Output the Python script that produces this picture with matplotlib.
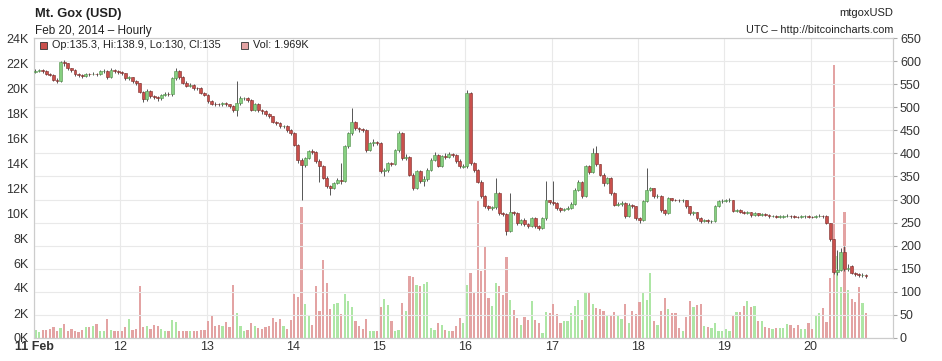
import numpy as np
import matplotlib.pyplot as plt
from matplotlib.patches import Rectangle

plt.rcParams["font.family"] = ["Liberation Sans", "DejaVu Sans"]

# hourly candles, Feb 11 00:00 UTC .. Feb 20 15:00 UTC (one row per day)
opens = [
    577, 579, 580, 578, 573, 570, 560, 557, 598, 595, 584, 580, 572, 570, 568, 572, 571, 573, 572, 578, 579, 566, 581, 578,
    576, 574, 563, 565, 556, 552, 533, 518, 536, 524, 522, 519, 526, 529, 528, 563, 578, 565, 553, 547, 549, 542, 541, 531,
    527, 513, 508, 507, 506, 509, 506, 502, 495, 509, 520, 520, 516, 495, 507, 495, 491, 485, 480, 469, 466, 459, 459, 451,
    444, 419, 386, 375, 390, 405, 404, 383, 372, 347, 329, 325, 336, 342, 340, 415, 444, 469, 454, 452, 450, 408, 422, 425,
    423, 361, 365, 379, 377, 408, 444, 390, 393, 354, 325, 361, 340, 345, 365, 386, 396, 373, 394, 392, 399, 396, 384, 371,
    372, 531, 379, 365, 339, 307, 285, 282, 283, 314, 271, 268, 231, 274, 271, 249, 256, 247, 243, 260, 242, 238, 260, 298,
    295, 292, 282, 278, 279, 282, 291, 321, 339, 307, 372, 360, 401, 376, 354, 336, 347, 314, 289, 291, 292, 264, 289, 285,
    260, 256, 296, 321, 324, 307, 308, 278, 271, 303, 300, 299, 298, 299, 285, 271, 272, 260, 254, 255, 253, 254, 285, 296,
    297, 298, 299, 276, 277, 274, 271, 272, 266, 270, 267, 269, 267, 264, 265, 263, 263, 264, 265, 264, 263, 262, 264, 264,
    263, 262, 264, 265, 264, 249, 214, 143, 148, 186, 150, 156, 141, 138, 135.5, 135.3,
]
highs = [
    582, 583, 582, 580, 575, 572, 563, 600, 603, 596, 586, 582, 574, 572, 575, 574, 576, 575, 581, 582, 580, 584, 583, 580,
    578, 575, 568, 566, 558, 553, 535, 540, 537, 527, 525, 529, 533, 532, 566, 586, 580, 567, 556, 552, 551, 544, 543, 532,
    528, 515, 511, 509, 512, 511, 508, 505, 557, 524, 523, 522, 518, 510, 509, 497, 493, 487, 482, 471, 468, 462, 461, 453,
    446, 421, 390, 392, 408, 410, 406, 388, 374, 350, 332, 339, 346, 379, 418, 447, 498, 470, 457, 455, 452, 425, 432, 427,
    425, 368, 382, 382, 410, 448, 446, 398, 395, 357, 364, 364, 350, 368, 389, 402, 398, 396, 400, 403, 401, 399, 388, 376,
    538, 533, 382, 367, 342, 309, 288, 287, 346, 316, 274, 270, 314, 276, 273, 258, 259, 250, 263, 262, 245, 263, 340, 300,
    341, 294, 284, 282, 286, 294, 324, 343, 341, 375, 374, 412, 415, 378, 357, 349, 348, 316, 294, 296, 294, 292, 290, 287,
    262, 299, 368, 328, 326, 311, 310, 280, 306, 304, 302, 301, 302, 300, 287, 275, 273, 262, 257, 258, 256, 288, 299, 301,
    302, 303, 300, 280, 279, 276, 275, 274, 272, 271, 271, 270, 268, 267, 266, 266, 267, 268, 267, 266, 265, 267, 267, 266,
    265, 266, 268, 267, 266, 250, 215, 190, 195, 200, 160, 158, 143, 140, 140, 138.9,
]
lows = [
    574, 576, 575, 570, 567, 556, 552, 555, 590, 580, 576, 568, 566, 563, 565, 567, 569, 568, 569, 575, 562, 563, 574, 572,
    570, 560, 560, 553, 549, 530, 512, 514, 520, 518, 514, 516, 524, 524, 525, 560, 561, 550, 543, 544, 538, 537, 528, 524,
    510, 504, 503, 502, 503, 502, 498, 490, 482, 505, 515, 511, 491, 492, 490, 486, 481, 476, 466, 462, 455, 455, 447, 440,
    415, 380, 300, 370, 388, 398, 379, 339, 344, 325, 310, 322, 333, 334, 338, 412, 440, 450, 447, 446, 404, 405, 417, 418,
    358, 350, 360, 372, 375, 404, 386, 386, 350, 320, 322, 336, 330, 340, 362, 383, 370, 370, 388, 389, 392, 380, 368, 368,
    368, 375, 360, 335, 304, 281, 278, 278, 280, 267, 264, 224, 229, 266, 245, 245, 243, 238, 240, 238, 233, 236, 256, 290,
    288, 278, 274, 275, 277, 279, 288, 318, 303, 305, 355, 358, 372, 350, 330, 333, 310, 285, 285, 287, 260, 262, 281, 255,
    250, 254, 294, 318, 303, 304, 274, 266, 268, 296, 296, 294, 295, 282, 267, 266, 256, 250, 251, 249, 250, 252, 283, 293,
    295, 295, 272, 273, 270, 268, 268, 263, 264, 264, 265, 264, 261, 262, 260, 260, 261, 262, 261, 260, 259, 260, 261, 260,
    259, 260, 262, 261, 246, 210, 138, 136, 145, 145, 146, 139, 135, 133, 133, 130,
]
closes = [
    579, 580, 578, 573, 570, 560, 557, 598, 595, 584, 580, 572, 570, 568, 572, 571, 573, 572, 578, 579, 566, 581, 578, 576,
    574, 563, 565, 556, 552, 533, 518, 536, 524, 522, 519, 526, 529, 528, 563, 578, 565, 553, 547, 549, 542, 541, 531, 527,
    513, 508, 507, 506, 509, 506, 502, 495, 509, 520, 520, 516, 495, 507, 495, 491, 485, 480, 469, 466, 459, 459, 451, 444,
    419, 386, 375, 390, 405, 404, 383, 372, 347, 329, 325, 336, 342, 340, 415, 444, 469, 454, 452, 450, 408, 422, 425, 423,
    361, 365, 379, 377, 408, 444, 390, 393, 354, 325, 361, 340, 345, 365, 386, 396, 373, 394, 392, 399, 396, 384, 372, 372,
    531, 379, 365, 339, 307, 285, 282, 283, 314, 271, 268, 231, 274, 271, 249, 256, 247, 243, 260, 242, 238, 260, 298, 295,
    292, 282, 278, 279, 282, 291, 321, 339, 307, 372, 360, 401, 376, 354, 336, 347, 314, 289, 291, 292, 264, 289, 285, 260,
    256, 296, 321, 324, 307, 308, 278, 271, 303, 300, 299, 298, 299, 285, 271, 272, 260, 254, 255, 253, 254, 285, 296, 297,
    298, 299, 276, 277, 274, 271, 272, 266, 270, 267, 269, 267, 264, 265, 263, 263, 264, 265, 264, 263, 262, 264, 264, 263,
    262, 264, 265, 264, 249, 214, 143, 148, 186, 150, 152, 141, 138, 136, 136.5, 135,
]
# volume in thousands of BTC
volumes = [
    0.65, 0.45, 0.65, 0.65, 0.75, 0.85, 0.6, 0.8, 1.1, 0.6, 0.75, 0.55, 0.45, 0.65, 0.85, 0.85, 0.95, 1.1, 0.55, 0.6, 1.5, 0.65, 0.55, 0.55,
    0.6, 0.85, 1.5, 0.65, 0.7, 4.15, 0.85, 1.0, 0.75, 1.07, 1.0, 0.75, 0.6, 0.55, 1.45, 1.3, 0.6, 0.55, 0.55, 0.55, 0.6, 0.6, 0.65, 0.65,
    1.35, 1.75, 1.0, 1.05, 1.0, 1.3, 0.85, 4.25, 2.0, 0.95, 0.6, 0.65, 1.2, 1.0, 0.8, 0.75, 0.85, 1.0, 1.6, 1.3, 1.55, 0.95, 0.7, 1.45,
    3.5, 3.25, 10.45, 2.7, 1.75, 1.07, 4.13, 2.13, 6.27, 4.4, 2.35, 2.7, 2.8, 1.9, 3.5, 2.93, 2.5, 1.4, 1.0, 0.75, 1.5, 0.6, 0.6, 0.6,
    2.5, 3.1, 2.67, 1.33, 0.53, 0.67, 2.8, 2.2, 4.96, 4.9, 4.27, 4.13, 4.3, 4.45, 0.8, 0.67, 1.2, 1.07, 0.67, 0.53, 0.6, 0.93, 1.6, 1.2,
    4.27, 5.2, 3.68, 11.07, 5.33, 7.25, 3.2, 2.53, 4.4, 4.13, 3.47, 6.45, 3.07, 2.27, 1.6, 1.07, 1.65, 1.47, 2.93, 1.47, 1.2, 0.4, 2.08, 2.0,
    2.72, 1.92, 1.2, 1.33, 1.39, 2.0, 2.53, 3.07, 1.47, 3.68, 3.68, 2.72, 2.4, 2.35, 2.19, 1.87, 1.87, 2.08, 1.81, 1.55, 2.72, 1.2, 2.19, 1.92,
    2.88, 3.6, 3.01, 5.2, 1.39, 1.07, 2.19, 3.2, 2.35, 1.97, 2.0, 0.8, 0.59, 1.71, 2.99, 2.45, 2.61, 2.72, 0.93, 0.85, 0.8, 1.2, 0.53, 0.53,
    0.75, 0.53, 1.79, 2.08, 2.08, 2.6, 2.93, 2.45, 2.53, 1.4, 1.4, 0.85, 0.8, 0.72, 0.8, 0.8, 0.8, 1.12, 1.07, 0.8, 1.07, 0.75, 0.72, 1.2,
    0.75, 1.84, 1.97, 2.37, 1.31, 4.77, 21.87, 6.53, 4.05, 10.1, 3.84, 3.12, 2.91, 4.05, 2.77, 1.969,
]
day_labels = ["11 Feb", "12", "13", "14", "15", "16", "17", "18", "19", "20"]
price_ticks = list(range(0, 651, 50))
vol_ticks = list(range(0, 25, 2))

W, H = 942, 361
fig = plt.figure(figsize=(W / 100, H / 100), dpi=100)
fig.patch.set_facecolor("white")

# plot box in pixels: x 34..893, y 38..338
axv = fig.add_axes([34 / W, 1 - 338 / H, 859 / W, 300 / H])
axp = axv.twinx()

o = np.array(opens, dtype=float)
hi = np.array(highs, dtype=float)
lo = np.array(lows, dtype=float)
c = np.array(closes, dtype=float)
v = np.array(volumes, dtype=float)
x = np.arange(len(c)) + 0.4
up = c >= o

# volume bars (left axis)
vol_col = np.where(up, "#ade6a5", "#e3a3a3")
axv.bar(x, v, width=0.62, color=vol_col, linewidth=0, zorder=2)
axv.set_ylim(0, 24)
axv.set_yticks(vol_ticks)
axv.set_yticklabels([f"{t}K" for t in vol_ticks])

# candles (right axis)
axp.vlines(x, lo, hi, color="#555555", linewidth=0.7, zorder=3)
body_lo = np.minimum(o, c)
body_h = np.maximum(np.abs(c - o), 0.6)
axp.bar(x, body_h, bottom=body_lo, width=0.8,
        color=np.where(up, "#86cf80", "#c9504c"),
        edgecolor=np.where(up, "#4f8f4a", "#7a2a28"), linewidth=0.4, zorder=4)
axp.set_ylim(0, 650)
axp.set_yticks(price_ticks)
axp.grid(axis="y", color="#e9e9e9", linewidth=0.8, zorder=0)
axp.set_axisbelow(True)

axv.set_xlim(0, 238.9)
axv.set_xticks(np.arange(len(day_labels)) * 24)
axv.set_xticklabels(day_labels)
axv.get_xticklabels()[0].set_fontweight("bold")
axv.grid(axis="x", color="#e9e9e9", linewidth=0.8)
axv.set_axisbelow(True)

for ax in (axv, axp):
    for s in ax.spines.values():
        s.set_color("#cccccc")
        s.set_linewidth(0.8)
axv.tick_params(axis="y", length=0, pad=4, labelsize=9, labelcolor="#333333")
axv.tick_params(axis="x", length=0, pad=2, labelsize=9, labelcolor="#333333")
axp.tick_params(axis="y", length=3, color="#aaaaaa", pad=2, labelsize=9, labelcolor="#333333")

# header texts
fig.text(35 / W, 1 - 14 / H, "Mt. Gox (USD)", fontsize=9.3, fontweight="bold",
         color="#222222", va="center", ha="left")
fig.text(35 / W, 1 - 31 / H, "Feb 20, 2014 \u2013 Hourly", fontsize=8.5,
         color="#222222", va="center", ha="left")
fig.text(893 / W, 1 - 13 / H, "mtgoxUSD", fontsize=8, color="#222222",
         va="center", ha="right")
fig.text(893 / W, 1 - 30 / H, "UTC \u2013 http://bitcoincharts.com", fontsize=7.8,
         color="#222222", va="center", ha="right")

# legend line inside the plot box
fig.add_artist(Rectangle((40 / W, 1 - 49 / H), 7 / W, 7 / H, transform=fig.transFigure,
                         facecolor="#c9504c", edgecolor="#333333", linewidth=0.6))
fig.text(52 / W, 1 - 45.5 / H,
         f"Op:{opens[-1]:g}, Hi:{highs[-1]:g}, Lo:{lows[-1]:g}, Cl:{closes[-1]:g}",
         fontsize=7.8, color="#222222", va="center", ha="left")
fig.add_artist(Rectangle((241 / W, 1 - 49 / H), 7 / W, 7 / H, transform=fig.transFigure,
                         facecolor="#e3a3a3", edgecolor="#333333", linewidth=0.6))
fig.text(253 / W, 1 - 45.5 / H, f"Vol: {volumes[-1]:.3f}K", fontsize=7.8,
         color="#222222", va="center", ha="left")

fig.savefig("out.png", dpi=100)
